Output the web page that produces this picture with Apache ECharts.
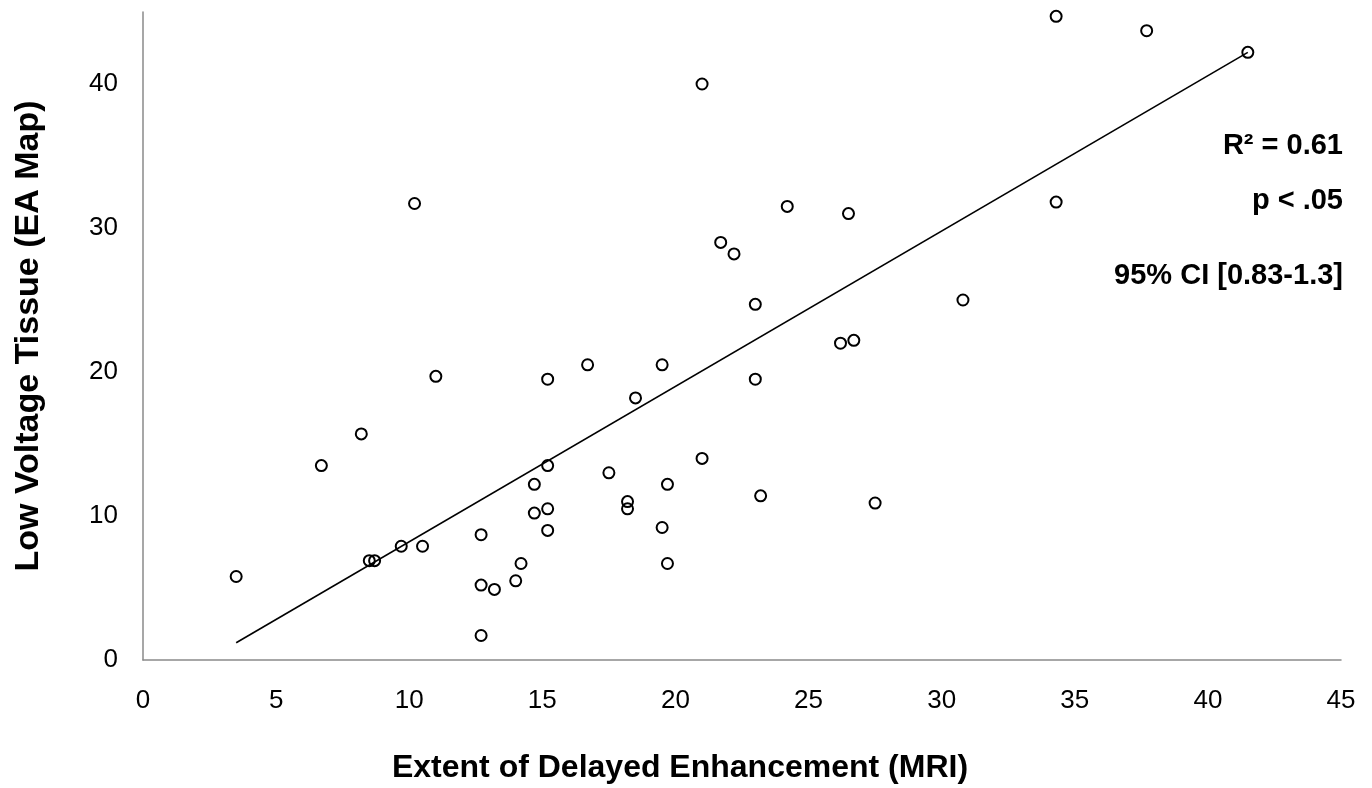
<!DOCTYPE html>
<html>
<head>
<meta charset="utf-8">
<script src="https://cdn.jsdelivr.net/npm/echarts@6/dist/echarts.min.js"></script>
<style>
html,body{margin:0;padding:0;background:#fff;}
#chart{width:1372px;height:788px;}
</style>
</head>
<body>
<div id="chart"></div>
<script>
// Extent of delayed enhancement (MRI) — x values
var mriExtent = [3.5, 6.7, 8.2, 8.5, 8.7, 9.7, 10.2, 10.5, 11.0, 12.7, 12.7, 12.7, 13.2, 14.0, 14.2,
  14.7, 14.7, 15.2, 15.2, 15.2, 15.2, 16.7, 17.5, 18.2, 18.2, 18.5, 19.5, 19.5, 19.7, 19.7,
  21.0, 21.0, 21.7, 22.2, 23.0, 23.0, 23.2, 24.2, 26.5, 26.2, 26.7, 27.5, 30.8, 34.3, 34.3, 37.7, 41.5];
// Low voltage tissue (EA map) — y values
var lowVoltage = [5.8, 13.5, 15.7, 6.9, 6.9, 7.9, 31.7, 7.9, 19.7, 8.7, 5.2, 1.7, 4.9, 5.5, 6.7,
  12.2, 10.2, 19.5, 13.5, 10.5, 9.0, 20.5, 13.0, 11.0, 10.5, 18.2, 20.5, 9.2, 12.2, 6.7,
  40.0, 14.0, 29.0, 28.2, 24.7, 19.5, 11.4, 31.5, 31.0, 22.0, 22.2, 10.9, 25.0, 31.8, 44.7, 43.7, 42.2];
// Linear trendline end points
var trendX = [3.5, 41.5];
var trendY = [1.2, 42.2];
// Axis ticks
var xTicks = [0, 5, 10, 15, 20, 25, 30, 35, 40, 45];
var yTicks = [0, 10, 20, 30, 40];
// Texts
var xTitle = 'Extent of Delayed Enhancement (MRI)';
var yTitle = 'Low Voltage Tissue (EA Map)';
var statsText = ['R² = 0.61', 'p < .05', '95% CI [0.83-1.3]'];

var FONT = "'Liberation Sans', Arial, sans-serif";
var scatterData = mriExtent.map(function (x, i) { return [x, lowVoltage[i]]; });
var trendData = trendX.map(function (x, i) { return [x, trendY[i]]; });

var chart = echarts.init(document.getElementById('chart'), null, {renderer: 'canvas'});
var axisLineStyle = {color: '#8a8a8a', width: 1.5};
var statY = [146, 201, 276];

chart.setOption({
  animation: false,
  backgroundColor: '#fff',
  grid: {left: 143, right: 31, top: 12, bottom: 128, containLabel: false},
  xAxis: {
    type: 'value', min: xTicks[0], max: xTicks[xTicks.length - 1], interval: 5,
    axisLine: {show: true, lineStyle: axisLineStyle},
    axisTick: {show: false},
    splitLine: {show: false},
    axisLabel: {color: '#000', fontFamily: FONT, fontSize: 26, margin: 28}
  },
  yAxis: {
    type: 'value', min: yTicks[0], max: 45, interval: 10,
    axisLine: {show: true, lineStyle: axisLineStyle},
    axisTick: {show: false},
    splitLine: {show: false},
    axisLabel: {color: '#000', fontFamily: FONT, fontSize: 26, margin: 25, showMaxLabel: false}
  },
  graphic: [
    {type: 'text', x: 680, y: 768, style: {text: xTitle, font: 'bold 32px ' + FONT, fill: '#000', textAlign: 'center', textVerticalAlign: 'middle'}},
    {type: 'text', x: 29, y: 336, rotation: Math.PI / 2, style: {text: yTitle, font: 'bold 34px ' + FONT, fill: '#000', textAlign: 'center', textVerticalAlign: 'middle'}},
    {type: 'text', x: 1343, y: statY[0], style: {text: statsText[0], font: 'bold 29px ' + FONT, fill: '#000', textAlign: 'right', textVerticalAlign: 'middle'}},
    {type: 'text', x: 1343, y: statY[1], style: {text: statsText[1], font: 'bold 29px ' + FONT, fill: '#000', textAlign: 'right', textVerticalAlign: 'middle'}},
    {type: 'text', x: 1343, y: statY[2], style: {text: statsText[2], font: 'bold 29px ' + FONT, fill: '#000', textAlign: 'right', textVerticalAlign: 'middle'}}
  ],
  series: [
    {
      type: 'scatter', data: scatterData, symbol: 'circle', symbolSize: 11,
      itemStyle: {color: 'rgba(255,255,255,0)', borderColor: '#000', borderWidth: 2, opacity: 1},
      z: 2
    },
    {
      type: 'line', data: trendData, showSymbol: false, symbol: 'none',
      lineStyle: {color: '#000', width: 1.6}, z: 3
    }
  ]
});
</script>
</body>
</html>
